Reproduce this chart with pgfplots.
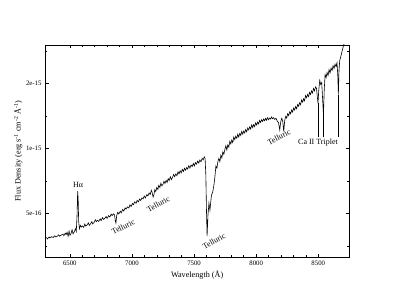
\documentclass[border=0pt]{standalone}
\usepackage{fontspec}
\setmainfont{Liberation Serif}
\usepackage{pgfplots}
\pgfplotsset{compat=1.18}
\begin{document}
\begin{tikzpicture}[x=1bp,y=1bp]
\path[use as bounding box] (0,0) rectangle (393,304);
\begin{axis}[
  at={(45bp,46.7bp)}, anchor=south west,
  scale only axis, width=304.3bp, height=212.3bp,
  xmin=6300, xmax=8750,
  ymode=log, ymin=0.313, ymax=3.02,
  xtick={6500,7000,7500,8000,8500},
  minor x tick num=4,
  ytick={0.5,1,2},
  yticklabels={5e-16,1e-15,2e-15},
  minor ytick={0.35355,0.70711,1.41421,2.82843},
  tick align=inside,
  major tick length=3.5bp, minor tick length=2bp,
  axis line style={line width=0.6bp},
  every tick/.style={line width=0.5bp, black},
  /pgf/number format/1000 sep={},
  /pgf/number format/assume math mode=true,
  tick label style={font=\fontsize{6.8}{8}\selectfont},
  label style={font=\fontsize{8.2}{10}\selectfont},
  xlabel={Wavelength (Å)},
  ylabel={Flux Density (erg s\textsuperscript{-1} cm\textsuperscript{-2} Å\textsuperscript{-1})},
  xlabel style={at={(axis description cs:0.5,-0.084)}, anchor=center},
  ylabel style={at={(axis description cs:-0.088,0.5)}, anchor=center},
]
\addplot[black, line width=0.6bp] coordinates {
(6300,0.384)(6312,0.386)(6320,0.381)(6333,0.389)(6341,0.385)(6352,0.390)(6366,0.387)
(6378,0.394)(6386,0.389)(6399,0.392)(6410,0.398)(6418,0.392)(6431,0.397)(6445,0.401)
(6452,0.394)(6463,0.405)(6470,0.399)(6478,0.409)(6486,0.392)(6494,0.414)(6501,0.396)
(6510,0.404)(6518,0.420)(6526,0.402)(6536,0.411)(6545,0.425)(6552,0.413)(6558,0.49)
(6563,0.634)(6567,0.58)(6571,0.46)(6577,0.425)(6585,0.44)(6593,0.432)(6601,0.438)
(6612,0.431)(6620,0.446)(6628,0.437)(6640,0.443)(6649,0.452)(6657,0.440)(6668,0.449)
(6677,0.458)(6684,0.447)(6696,0.455)(6705,0.467)(6714,0.458)(6722,0.465)(6733,0.459)
(6744,0.472)(6752,0.463)(6763,0.478)(6772,0.469)(6781,0.474)(6792,0.484)(6800,0.474)
(6812,0.488)(6822,0.481)(6833,0.496)(6841,0.489)(6852,0.498)(6860,0.492)(6866,0.462)
(6871,0.451)(6877,0.488)(6886,0.506)(6895,0.497)(6906,0.512)(6914,0.503)(6925,0.522)
(6934,0.513)(6945,0.53)(6953,0.524)(6964,0.536)(6975,0.53)(6984,0.548)(6993,0.538)
(7004,0.556)(7013,0.549)(7022,0.566)(7033,0.557)(7042,0.575)(7052,0.566)(7061,0.583)
(7070,0.574)(7081,0.59)(7090,0.584)(7099,0.602)(7108,0.59)(7120,0.611)(7129,0.603)
(7138,0.622)(7147,0.612)(7156,0.64)(7163,0.625)(7170,0.596)(7177,0.61)(7184,0.645)
(7192,0.632)(7200,0.66)(7209,0.645)(7216,0.675)(7225,0.66)(7233,0.69)(7241,0.671)
(7250,0.683)(7258,0.705)(7266,0.688)(7275,0.712)(7283,0.696)(7292,0.725)(7300,0.71)
(7309,0.74)(7318,0.718)(7327,0.735)(7336,0.758)(7344,0.74)(7353,0.762)(7362,0.748)
(7371,0.779)(7379,0.762)(7388,0.788)(7397,0.771)(7405,0.8)(7414,0.782)(7423,0.81)
(7432,0.793)(7440,0.816)(7449,0.803)(7458,0.833)(7467,0.812)(7476,0.838)(7485,0.825)
(7494,0.852)(7502,0.83)(7511,0.86)(7520,0.846)(7529,0.875)(7538,0.856)(7547,0.885)
(7556,0.868)(7565,0.9)(7574,0.886)(7582,0.915)(7589,0.9)(7595,0.752)(7600,0.518)
(7605,0.393)(7612,0.49)(7620,0.558)(7628,0.518)(7640,0.607)(7650,0.627)(7660,0.676)
(7668,0.74)(7676,0.83)(7684,0.81)(7692,0.87)(7700,0.9)(7708,0.87)(7716,0.93)
(7724,0.905)(7732,0.965)(7740,0.94)(7748,0.99)(7756,1.03)(7764,0.985)(7772,1.04)
(7780,1.015)(7788,1.08)(7796,1.05)(7804,1.095)(7812,1.065)(7820,1.13)(7828,1.1)
(7836,1.14)(7844,1.115)(7852,1.165)(7860,1.13)(7868,1.175)(7876,1.15)(7884,1.2)
(7892,1.165)(7900,1.205)(7908,1.18)(7916,1.225)(7924,1.195)(7932,1.245)(7940,1.22)
(7948,1.26)(7956,1.232)(7964,1.285)(7972,1.25)(7980,1.29)(7988,1.265)(7996,1.315)
(8004,1.285)(8012,1.325)(8020,1.3)(8028,1.35)(8036,1.32)(8044,1.36)(8052,1.335)
(8060,1.37)(8068,1.345)(8076,1.38)(8084,1.352)(8092,1.39)(8100,1.36)(8108,1.385)
(8116,1.37)(8124,1.4)(8132,1.375)(8140,1.39)(8150,1.365)(8160,1.38)(8170,1.34)
(8180,1.32)(8190,1.22)(8198,1.33)(8206,1.38)(8214,1.34)(8222,1.2)(8230,1.35)
(8238,1.41)(8246,1.385)(8254,1.45)(8262,1.42)(8270,1.48)(8278,1.45)(8286,1.51)
(8294,1.475)(8302,1.54)(8310,1.51)(8318,1.565)(8326,1.53)(8334,1.6)(8342,1.57)
(8350,1.63)(8358,1.595)(8366,1.68)(8374,1.64)(8382,1.7)(8390,1.665)(8398,1.76)
(8406,1.72)(8414,1.78)(8422,1.74)(8430,1.82)(8438,1.78)(8446,1.85)(8454,1.81)
(8462,1.9)(8470,1.85)(8478,1.93)(8486,1.9)(8492,1.75)(8498,1.62)(8504,1.86)
(8512,2.07)(8520,1.98)(8528,2.02)(8535,1.7)(8542,1.426)(8548,1.86)(8555,2.2)
(8563,2.13)(8571,2.25)(8579,2.18)(8587,2.32)(8595,2.24)(8603,2.36)(8611,2.3)
(8619,2.42)(8627,2.35)(8635,2.46)(8643,2.4)(8651,2.5)(8657,2.2)(8662,1.78)
(8667,2.3)(8673,2.56)(8681,2.66)(8690,2.8)(8700,2.95)(8710,3.1)(8730,3.3)(8750,3.5)
};
\addplot[black, line width=0.5bp] coordinates {(8498,1.127) (8498,1.62)};
\addplot[black, line width=0.5bp] coordinates {(8542,1.127) (8542,1.426)};
\addplot[black, line width=0.5bp] coordinates {(8662,1.127) (8662,1.78)};
\node[font=\fontsize{8}{9}\selectfont] at (axis cs:6566,0.68) {Hα};
\node[font=\fontsize{8}{9}\selectfont, rotate=27] at (axis cs:6930,0.4335) {Telluric};
\node[font=\fontsize{8}{9}\selectfont, rotate=29] at (axis cs:7212,0.5524) {Telluric};
\node[font=\fontsize{8}{9}\selectfont, rotate=30] at (axis cs:7661,0.372) {Telluric};
\node[font=\fontsize{8}{9}\selectfont, rotate=28] at (axis cs:8184,1.128) {Telluric};
\node[font=\fontsize{8}{9}\selectfont] at (axis cs:8498,1.06) {Ca II Triplet};
\end{axis}
\end{tikzpicture}
\end{document}
